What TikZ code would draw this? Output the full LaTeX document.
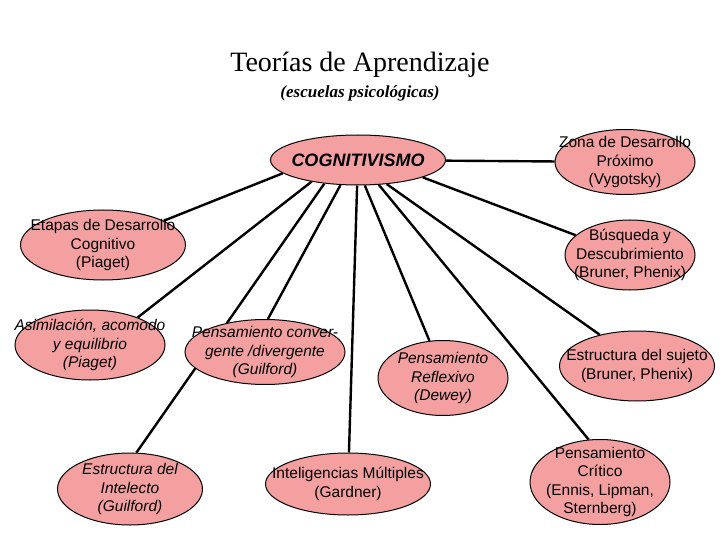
\documentclass[tikz,border=0pt]{standalone}
\usepackage{fontspec}
\setmainfont{Liberation Serif}
\newfontfamily\arialf{Liberation Sans}
\usetikzlibrary{shapes.geometric}
\definecolor{elpink}{HTML}{F4A0A0}
\pgfdeclarelayer{bg}
\pgfsetlayers{bg,main}
\tikzset{
 el/.style={ellipse,draw=black,line width=1pt,fill=elpink,inner sep=0pt},
 tx/.style={align=center,font=\arialf\fontsize{15.5}{18.5}\selectfont,inner sep=0pt},
 txi/.style={tx,font=\arialf\itshape\fontsize{15.5}{18.5}\selectfont},
 con/.style={line width=2.4pt,black}
}
\newcommand{\bub}[6]{\node[el,minimum width=#3,minimum height=#4] (#1) at (#2) {};\node[#5] (#1t) at (#2) {#6};}
\begin{document}
\begin{tikzpicture}[x=1pt,y=-1pt]
\useasboundingbox (0,0) rectangle (720,540);
\node (t) at (360,65) {\fontsize{28}{32}\selectfont Teorías de Aprendizaje};
\node (s) at (360,93) {\fontsize{17}{20}\selectfont\bfseries\itshape (escuelas psicológicas)};
\bub{c}{358,160}{175}{50}{txi,font=\arialf\bfseries\itshape\fontsize{18}{20}\selectfont}{COGNITIVISMO}
\bub{z}{625,162}{140}{65}{tx}{Zona de Desarrollo\\Próximo\\(Vygotsky)}
\bub{e}{103,245}{165}{70}{tx}{Etapas de Desarrollo\\Cognitivo\\(Piaget)}
\bub{b}{630,255}{130}{70}{tx}{Búsqueda y\\Descubrimiento\\(Bruner, Phenix)}
\bub{a}{90,345}{150}{70}{txi}{Asimilación, acomodo\\y equilibrio\\(Piaget)}
\bub{p}{265,352}{160}{65}{txi}{Pensamiento conver-\\gente /divergente\\(Guilford)}
\bub{r}{443,378}{130}{75}{txi}{Pensamiento\\Reflexivo\\(Dewey)}
\bub{es}{637,366}{155}{70}{tx}{Estructura del sujeto\\(Bruner, Phenix)}
\bub{ei}{130,489}{145}{72}{txi}{Estructura del\\Intelecto\\(Guilford)}
\bub{i}{348,484}{165}{62}{tx}{Inteligencias Múltiples\\(Gardner)}
\bub{pc}{600,482}{140}{85}{tx}{Pensamiento\\Crítico\\(Ennis, Lipman,\\Sternberg)}
\begin{pgfonlayer}{bg}
\draw[con] (c) -- (z);
\draw[con] (c.190) -- (e);
\draw[con] (c.205) -- (a.30);
\draw[con] (c.235) -- (p.85);
\draw[con] (c.215) -- (ei.80);
\draw[con] (c.268) -- (i);
\draw[con] (c.285) -- (r.110);
\draw[con] (c.310) -- (pc.105);
\draw[con] (c.320) -- (es.140);
\draw[con] (c.345) -- (b.160);
\end{pgfonlayer}
\end{tikzpicture}
\end{document}
